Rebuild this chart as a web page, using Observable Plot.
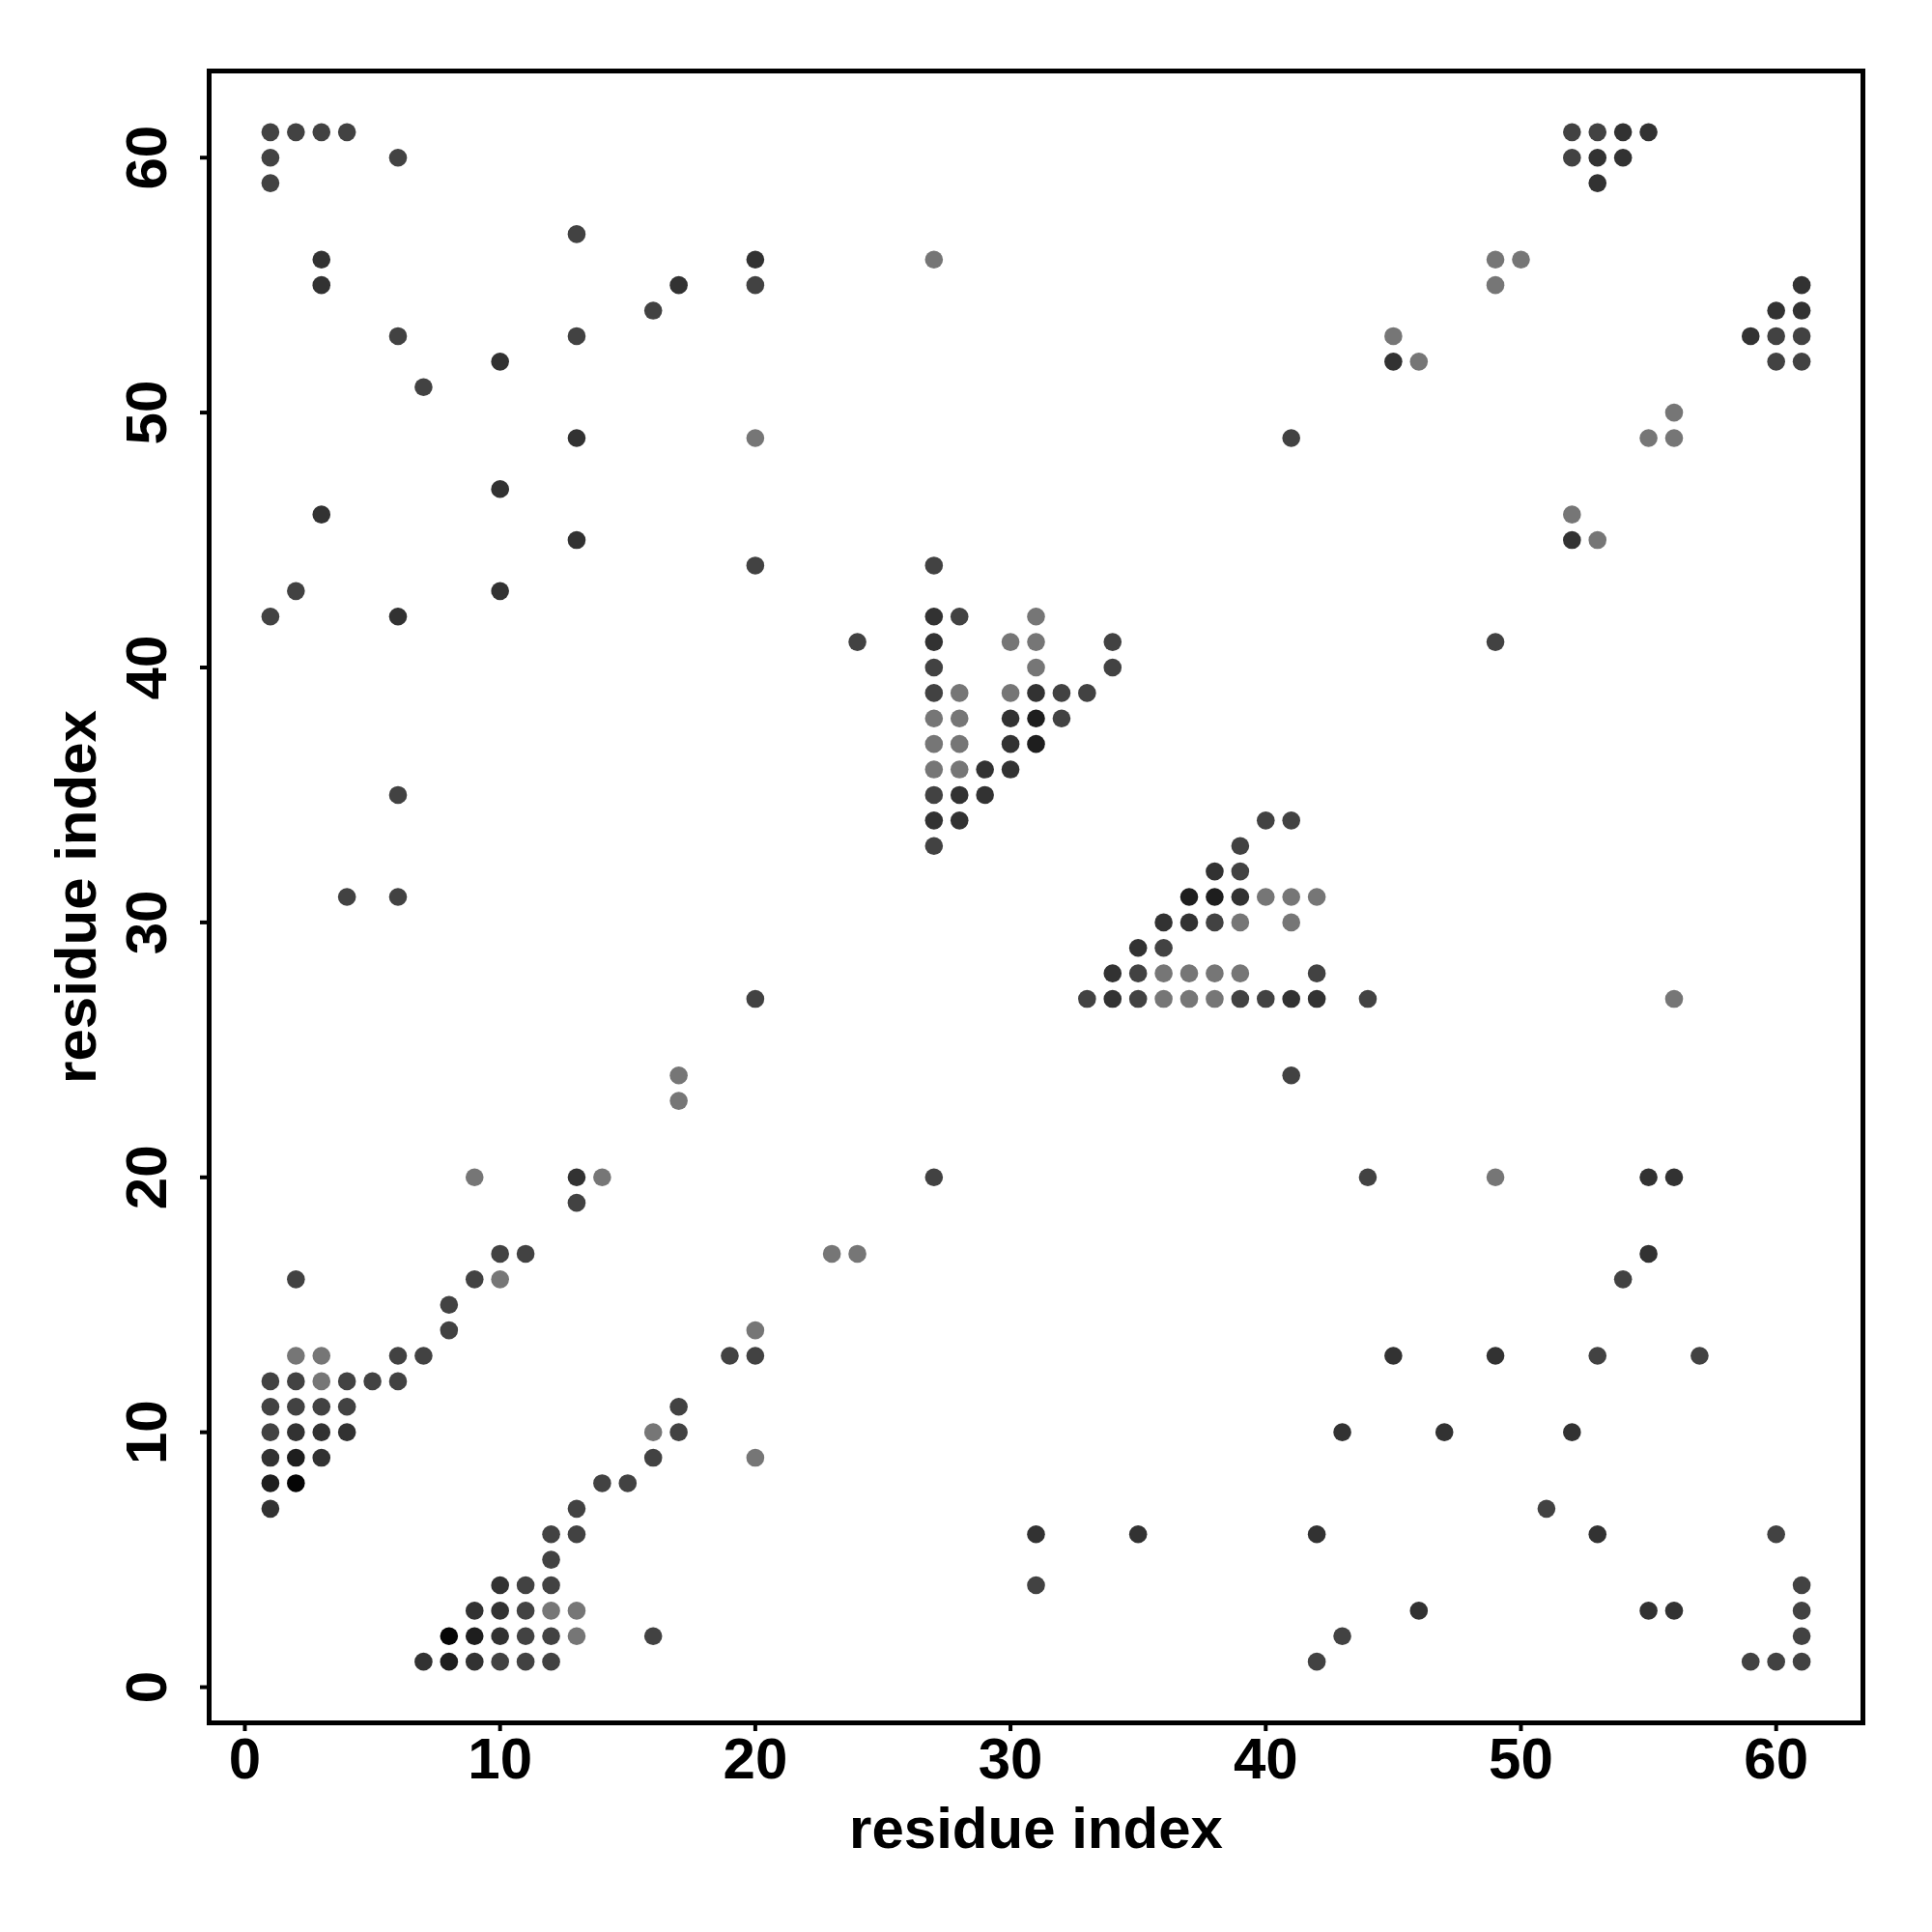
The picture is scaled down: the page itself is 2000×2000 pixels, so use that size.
<!DOCTYPE html>
<html><head><meta charset="utf-8">
<script src="https://cdn.jsdelivr.net/npm/d3@7"></script>
<script src="https://cdn.jsdelivr.net/npm/@observablehq/plot@0.6"></script>
<style>body{margin:0;background:#fff}</style>
</head><body><div id="chart"></div>
<script>
// residue i (x) of each contact, listed row by row (top row j=61 first)
const resI = [
  1,2,3,4,52,53,54,55,
  1,6,52,53,54,
  1,53,
  13,
  3,20,27,49,50,
  3,17,20,49,61,
  16,60,61,
  6,13,45,59,60,61,
  10,45,46,60,61,
  7,
  56,
  13,20,41,55,56,
  10,
  3,52,
  13,52,53,
  20,27,
  2,10,
  1,6,27,28,31,
  24,27,30,31,34,49,
  27,31,34,
  27,28,30,31,32,33,
  27,28,30,31,32,
  27,28,30,31,
  27,28,29,30,
  6,27,28,29,
  27,28,40,41,
  27,39,
  38,39,
  4,6,37,38,39,40,41,42,
  36,37,38,39,41,
  35,36,
  34,35,36,37,38,39,42,
  20,33,34,35,36,37,38,39,40,41,42,44,56,
  17,41,
  17,
  9,13,14,27,44,49,55,56,
  13,
  10,11,23,24,55,
  2,9,10,54,
  8,
  8,20,
  2,3,6,7,19,20,45,49,53,57,
  1,2,3,4,5,6,
  1,2,3,4,17,
  1,2,3,4,16,17,43,47,52,
  1,2,3,16,20,
  1,2,14,15,
  1,13,51,
  12,13,31,35,42,53,60,
  12,
  10,11,12,31,61,
  9,10,11,12,13,46,55,56,61,
  8,9,10,11,12,13,16,43,61,
  7,8,9,10,11,12,42,59,60,61
];
// residue j (y) of each contact
const resJ = [
  61,61,61,61,61,61,61,61,
  60,60,60,60,60,
  59,59,
  57,
  56,56,56,56,56,
  55,55,55,55,55,
  54,54,54,
  53,53,53,53,53,53,
  52,52,52,52,52,
  51,
  50,
  49,49,49,49,49,
  47,
  46,46,
  45,45,45,
  44,44,
  43,43,
  42,42,42,42,42,
  41,41,41,41,41,41,
  40,40,40,
  39,39,39,39,39,39,
  38,38,38,38,38,
  37,37,37,37,
  36,36,36,36,
  35,35,35,35,
  34,34,34,34,
  33,33,
  32,32,
  31,31,31,31,31,31,31,31,
  30,30,30,30,30,
  29,29,
  28,28,28,28,28,28,28,
  27,27,27,27,27,27,27,27,27,27,27,27,27,
  24,24,
  23,
  20,20,20,20,20,20,20,20,
  19,
  17,17,17,17,17,
  16,16,16,16,
  15,
  14,14,
  13,13,13,13,13,13,13,13,13,13,
  12,12,12,12,12,12,
  11,11,11,11,11,
  10,10,10,10,10,10,10,10,10,
  9,9,9,9,9,
  8,8,8,8,
  7,7,7,
  6,6,6,6,6,6,6,
  5,
  4,4,4,4,4,
  3,3,3,3,3,3,3,3,3,
  2,2,2,2,2,2,2,2,2,
  1,1,1,1,1,1,1,1,1,1
];
// grey level (0 = black, 255 = white) of each contact
const shade = [
  66,66,66,66,66,66,50,50,
  66,66,66,50,50,
  66,50,
  66,
  50,50,118,118,118,
  50,50,66,118,50,
  66,50,50,
  66,66,118,50,66,66,
  50,50,118,66,66,
  66,
  118,
  50,118,66,118,118,
  50,
  50,118,
  50,50,118,
  66,66,
  66,50,
  66,50,50,66,118,
  66,50,118,118,66,66,
  66,118,66,
  66,118,118,50,66,66,
  118,118,50,30,66,
  118,118,50,30,
  118,118,50,50,
  66,66,50,50,
  50,50,66,66,
  66,66,
  50,66,
  66,66,30,30,50,118,118,118,
  50,50,66,118,118,
  50,66,
  50,66,118,118,118,118,66,
  66,66,50,66,118,118,118,66,66,50,50,66,118,
  118,66,
  118,
  118,50,118,66,66,118,50,50,
  66,
  66,66,118,118,50,
  66,66,118,66,
  66,
  66,118,
  118,118,66,66,66,66,50,50,66,66,
  66,66,118,66,66,66,
  66,66,66,66,66,
  66,50,50,50,118,66,50,50,50,
  50,30,50,66,118,
  30,5,66,66,
  50,66,66,
  66,66,50,50,50,50,66,
  66,
  50,66,66,66,66,
  50,50,66,118,118,50,50,50,66,
  5,30,50,66,66,118,66,66,66,
  50,30,50,66,66,66,66,66,66,66
];
const xTicks = [0, 10, 20, 30, 40, 50, 60];
const yTicks = [0, 10, 20, 30, 40, 50, 60];
const xTitle = "residue index";
const yTitle = "residue index";

const contacts = resI.map((x, k) => ({x, y: resJ[k], g: shade[k]}));
const font = "'Liberation Sans', Arial, Helvetica, sans-serif";

const chart = Plot.plot({
  width: 2000,
  height: 2000,
  marginLeft: 216,
  marginRight: 72,
  marginTop: 73,
  marginBottom: 217,
  style: {background: "#fff", fontFamily: font},
  x: {domain: [-1.4, 63.4], label: null},
  y: {domain: [-1.4, 63.4], label: null},
  color: {type: "linear", domain: [0, 255], range: ["#000000", "#ffffff"]},
  marks: [
    Plot.dot(contacts, {x: "x", y: "y", fill: "g", r: 9.3, stroke: "none"}),
    Plot.frame({stroke: "#000", strokeWidth: 5}),
    Plot.axisX({ticks: xTicks, tickSize: 9, tickPadding: 6, strokeWidth: 4, fontSize: 60, fontWeight: "bold", fontFamily: font, fill: "#000", label: null}),
    Plot.axisY({ticks: yTicks, tickSize: 9, tickPadding: 36, tickRotate: -90, strokeWidth: 4, fontSize: 60, fontWeight: "bold", fontFamily: font, fill: "#000", label: null}),
    Plot.text([xTitle], {text: d => d, frameAnchor: "bottom", dy: 129, lineAnchor: "bottom", fontSize: 60, fontWeight: "bold", fontFamily: font, fill: "#000"}),
    Plot.text([yTitle], {text: d => d, frameAnchor: "left", dx: -118, rotate: -90, lineAnchor: "bottom", textAnchor: "middle", fontSize: 60, fontWeight: "bold", fontFamily: font, fill: "#000"})
  ]
});
document.getElementById("chart").appendChild(chart);
</script>
</body></html>
